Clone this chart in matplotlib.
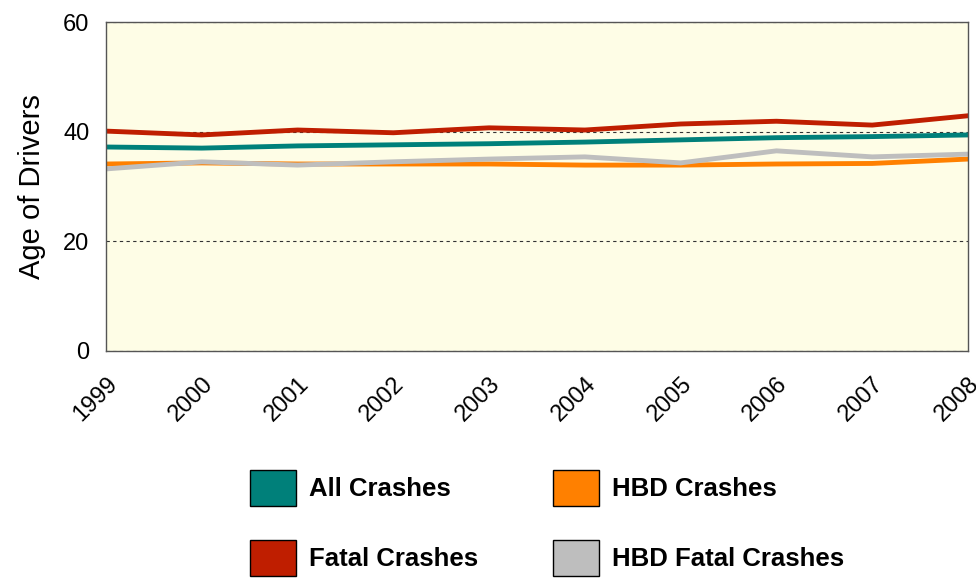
import matplotlib.pyplot as plt
from matplotlib.patches import Patch

plt.rcParams['font.family'] = ['Liberation Sans', 'DejaVu Sans']

years = ['1999', '2000', '2001', '2002', '2003', '2004', '2005', '2006', '2007', '2008']
all_crashes = [37.2, 37.0, 37.4, 37.6, 37.8, 38.1, 38.5, 38.9, 39.1, 39.4]
hbd_crashes = [34.1, 34.3, 34.1, 34.1, 34.1, 33.9, 33.9, 34.1, 34.2, 35.0]
fatal_crashes = [40.1, 39.4, 40.3, 39.8, 40.7, 40.3, 41.4, 41.9, 41.2, 42.9]
hbd_fatal = [33.2, 34.5, 33.9, 34.5, 35.0, 35.4, 34.3, 36.5, 35.4, 35.9]

teal = '#00807A'
orange = '#FF8000'
red = '#BF1E00'
gray = '#BEBEBE'

fig = plt.figure(figsize=(9.76, 5.8), dpi=100)
ax = fig.add_axes([0.1086, 0.395, 0.8832, 0.567])
ax.set_facecolor('#FEFDE6')

x = range(len(years))
ax.plot(x, hbd_crashes, color=orange, lw=3.5)
ax.plot(x, hbd_fatal, color=gray, lw=3.5)
ax.plot(x, all_crashes, color=teal, lw=3.5)
ax.plot(x, fatal_crashes, color=red, lw=3.5)

ax.set_xlim(0, len(years) - 1)
ax.set_ylim(0, 60)
ax.set_yticks([0, 20, 40, 60])
ax.set_xticks(list(x))
ax.set_xticklabels(years, rotation=45, ha='right', rotation_mode='anchor')
ax.tick_params(axis='both', length=0, labelsize=17)
ax.tick_params(axis='x', pad=16)
ax.tick_params(axis='y', pad=12)
ax.yaxis.grid(True, linestyle=(0, (3, 3)), color='#333333', lw=0.8)
ax.set_axisbelow(True)
for s in ax.spines.values():
    s.set_color('#555555')
    s.set_linewidth(1)
ax.set_ylabel('Age of Drivers', fontsize=21, labelpad=12)

handles = [Patch(facecolor=teal, edgecolor='black'),
           Patch(facecolor=red, edgecolor='black'),
           Patch(facecolor=orange, edgecolor='black'),
           Patch(facecolor=gray, edgecolor='black')]
labels = ['All Crashes', 'Fatal Crashes', 'HBD Crashes', 'HBD Fatal Crashes']
fig.legend(handles, labels, ncol=2, loc='upper left', bbox_to_anchor=(0.243, 0.212),
           frameon=False, prop={'weight': 'bold', 'size': 18.5},
           handlelength=1.8, handleheight=1.8, labelspacing=1.3,
           columnspacing=2.9, handletextpad=0.5, borderpad=0)

fig.savefig('out.png', dpi=100)
